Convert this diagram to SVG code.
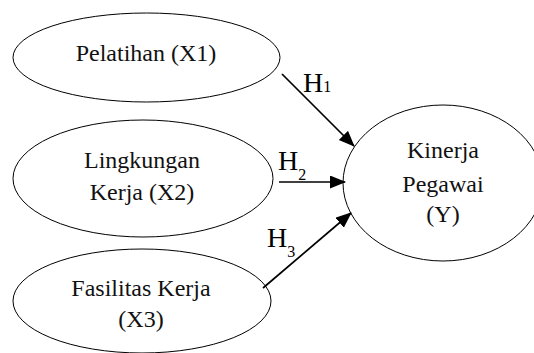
<svg xmlns="http://www.w3.org/2000/svg" width="534" height="353" viewBox="0 0 534 353">
  <style>
    .node { fill: #ffffff; stroke: #000000; stroke-width: 1; }
    .lbl { font-size: 24px; fill: #111111; text-anchor: middle; }
    .h { font-size: 28px; fill: #000000; }
    .sub { font-size: 16px; fill: #000000; }
    .edge { stroke: #000000; stroke-width: 1.7; fill: none; marker-end: url(#arrow); }
  </style>
  <defs>
    <marker id="arrow" markerUnits="userSpaceOnUse" markerWidth="16" markerHeight="14" refX="15" refY="6.5" orient="auto">
      <path d="M0,0 L16,6.5 L0,13 z" fill="#000000"/>
    </marker>
  </defs>
  <rect width="534" height="353" fill="#ffffff"/>

  <g font-family="'Liberation Serif', 'DejaVu Serif', serif">
  <g id="node-x1">
    <ellipse class="node" cx="146.5" cy="57.5" rx="133.5" ry="44.5"/>
    <text class="lbl" x="146" y="61">Pelatihan (X1)</text>
  </g>
  <g id="node-x2">
    <ellipse class="node" cx="143" cy="178.5" rx="130" ry="58.5"/>
    <text class="lbl" x="142" y="168">Lingkungan</text>
    <text class="lbl" x="142" y="200">Kerja (X2)</text>
  </g>
  <g id="node-x3">
    <ellipse class="node" cx="142" cy="301" rx="129" ry="52"/>
    <text class="lbl" x="141" y="296">Fasilitas Kerja</text>
    <text class="lbl" x="141" y="327">(X3)</text>
  </g>
  <g id="node-y">
    <ellipse class="node" cx="443" cy="183" rx="100" ry="78"/>
    <text class="lbl" x="443" y="158">Kinerja</text>
    <text class="lbl" x="443" y="192">Pegawai</text>
    <text class="lbl" x="443" y="222">(Y)</text>
  </g>

  <g id="connectors">
    <line class="edge" x1="282" y1="74" x2="354" y2="146"/>
    <line class="edge" x1="279" y1="182" x2="345" y2="182"/>
    <line class="edge" x1="263" y1="288" x2="351" y2="213"/>
    <text class="h" x="303" y="92">H<tspan class="sub">1</tspan></text>
    <text class="h" x="278" y="170">H<tspan class="sub" dy="10">2</tspan></text>
    <text class="h" x="267" y="247">H<tspan class="sub" dy="10">3</tspan></text>
  </g>
  </g>
</svg>
